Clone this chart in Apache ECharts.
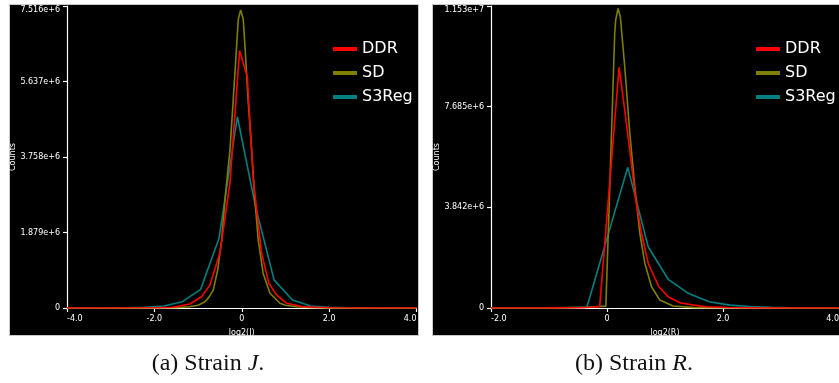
<!DOCTYPE html>
<html><head><meta charset="utf-8">
<script src="https://cdn.jsdelivr.net/npm/echarts@6/dist/echarts.min.js"></script>
<style>html,body{margin:0;padding:0;background:#fff}#c{width:839px;height:383px}</style>
</head><body><div id="c"></div>
<script>
// ---- Strain J (left panel) ----
const xTicksJ = ['-4.0','-2.0','0','2.0','4.0'];
const yTicksJ = ['0','1.879e+6','3.758e+6','5.637e+6','7.516e+6'];
const ddrJx = [-4.0,-2.0,-1.57,-1.19,-0.92,-0.73,-0.5,-0.27,-0.05,0.126,0.264,0.455,0.62,0.8,1.03,1.4,2.0,4.0];
const ddrJy = [0,0.005,0.02,0.1,0.28,0.57,1.36,3.1,6.40,5.76,3.19,1.36,0.62,0.32,0.117,0.03,0.005,0];
const sdJx = [-4.0,-2.0,-1.5,-1.2,-1.0,-0.85,-0.75,-0.65,-0.55,-0.46,-0.385,-0.27,-0.195,-0.13,-0.08,-0.025,0.035,0.08,0.145,0.227,0.30,0.378,0.49,0.646,0.875,1.0,1.26,1.6,2.0,4.0];
const sdJy = [0,0.002,0.008,0.03,0.07,0.15,0.27,0.45,0.95,1.69,2.69,3.93,5.18,6.3,7.18,7.42,7.18,6.4,5.18,3.93,2.69,1.69,0.86,0.366,0.117,0.07,0.03,0.01,0.003,0];
const s3Jx = [-4.0,-3.04,-2.62,-2.2,-1.78,-1.36,-0.94,-0.52,-0.10,0.32,0.74,1.16,1.58,2.0,2.42,2.84,4.0];
const s3Jy = [0,0.003,0.008,0.02,0.05,0.157,0.465,1.735,4.76,2.5,0.70,0.20,0.05,0.015,0.005,0.002,0];

// ---- Strain R (right panel) ----
const xTicksR = ['-2.0','0','2.0','4.0'];
const yTicksR = ['0','3.842e+6','7.685e+6','1.153e+7'];
const ddrRx = [-2.0,-1.0,-0.4,-0.126,0.208,0.306,0.405,0.497,0.595,0.71,0.894,1.055,1.258,1.49,1.72,2.1,2.6,4.0];
const ddrRy = [0,0.003,0.01,0.06,9.19,7.56,5.78,4.12,2.85,1.71,0.81,0.43,0.2,0.11,0.05,0.02,0.005,0];
const sdRx = [-2.0,-1.0,-0.35,-0.02,0.04,0.10,0.133,0.15,0.19,0.23,0.306,0.393,0.48,0.566,0.652,0.768,0.91,1.14,1.5,2.0,4.0];
const sdRy = [0,0.005,0.03,0.07,4.1,8.2,10.49,11.0,11.44,11.12,9.21,6.67,4.63,2.85,1.71,0.81,0.305,0.076,0.015,0.003,0];
const s3Rx = [-2.0,-1.05,-0.7,-0.346,0.006,0.358,0.71,1.06,1.41,1.76,2.12,2.47,2.82,3.17,4.0];
const s3Ry = [0,0.005,0.01,0.04,2.7,5.37,2.34,1.08,0.55,0.24,0.11,0.06,0.03,0.01,0];

const seriesNames = ['DDR','SD','S3Reg'];
const colors = {DDR:'#ff0000', SD:'#808000', S3Reg:'#008080'};
const captions = ['(a) Strain {i|J}.', '(b) Strain {i|R}.'];

const intJ = 1879000, intR = 3843333.3333;
const pair = (xs, ys) => xs.map((x,i)=>[x, ys[i]*1e6]);
const font = 'DejaVu Sans';

function xAxis(gi, min, max, labels, name){
  return {type:'value', gridIndex:gi, min, max, interval:2,
    axisLine:{show:true, onZero:false, lineStyle:{color:'#fff', width:1.2}},
    axisTick:{show:true, length:4, lineStyle:{color:'#fff', width:1.2}},
    splitLine:{show:false},
    axisLabel:{color:'#fff', fontSize:8, fontFamily:font, margin:7, showMinLabel:true, showMaxLabel:true,
      hideOverlap:false, alignMinLabel:'left', alignMaxLabel:'right',
      formatter:v=>labels[Math.round((v-min)/2)]},
    name, nameLocation:'middle', nameGap:21, nameTextStyle:{color:'#fff', fontSize:8, fontFamily:font}};
}
function yAxis(gi, interval, n, labels){
  return {type:'value', gridIndex:gi, min:0, max:interval*n, interval,
    axisLine:{show:true, onZero:false, lineStyle:{color:'#fff', width:1.2}},
    axisTick:{show:true, length:4, lineStyle:{color:'#fff', width:1.2}},
    splitLine:{show:false},
    axisLabel:{color:'#fff', fontSize:8, fontFamily:font, margin:7, showMinLabel:true, showMaxLabel:true,
      hideOverlap:false, verticalAlignMaxLabel:'top',
      formatter:v=>labels[Math.round(v/interval)]},
    name:'Counts', nameLocation:'middle', nameGap:50, nameTextStyle:{color:'#fff', fontSize:8, fontFamily:font}};
}
function line(name, gi, data, z){
  return {type:'line', name, xAxisIndex:gi, yAxisIndex:gi, data, showSymbol:false, symbol:'none',
    color:colors[name], lineStyle:{color:colors[name], width:1.6}, z, animation:false};
}
function legend(left){
  return {data:seriesNames, orient:'vertical', left, top:35, icon:'rect', itemWidth:24, itemHeight:4,
    itemGap:6, textStyle:{color:'#fff', fontSize:16, fontFamily:font, lineHeight:18, padding:[0,0,0,0]}, selectedMode:false};
}
function caption(x, text){
  return {type:'text', x, y:364, style:{text, rich:{i:{fontStyle:'italic', fontSize:24, fontFamily:'Liberation Serif', fill:'#111'}},
    fontSize:24, fontFamily:'Liberation Serif', fill:'#111', align:'center', verticalAlign:'middle'}};
}

const chart = echarts.init(document.getElementById('c'), null, {renderer:'canvas'});
chart.setOption({
  backgroundColor:'#fff',
  animation:false,
  graphic:[
    {type:'rect', z:-10, shape:{x:9.5,y:4.5,width:409,height:331}, style:{fill:'#000', stroke:'#c8c8c8', lineWidth:1}},
    {type:'rect', z:-10, shape:{x:432.5,y:4.5,width:412,height:331}, style:{fill:'#000', stroke:'#c8c8c8', lineWidth:1}},
    caption(208, captions[0]),
    caption(634, captions[1])
  ],
  grid:[
    {left:67, top:6, width:349.5, height:302, outerBoundsMode:'none', containLabel:false},
    {left:491, top:6, width:348, height:302, outerBoundsMode:'none', containLabel:false}
  ],
  legend:[legend(328), legend(751)],
  xAxis:[xAxis(0,-4,4,xTicksJ,'log2(J)'), xAxis(1,-2,4,xTicksR,'log2(R)')],
  yAxis:[yAxis(0,intJ,4,yTicksJ), yAxis(1,intR,3,yTicksR)],
  series:[
    line('DDR',0,pair(ddrJx,ddrJy),4),
    line('SD',0,pair(sdJx,sdJy),3),
    line('S3Reg',0,pair(s3Jx,s3Jy),2),
    line('DDR',1,pair(ddrRx,ddrRy),4),
    line('SD',1,pair(sdRx,sdRy),3),
    line('S3Reg',1,pair(s3Rx,s3Ry),2)
  ]
});
</script></body></html>
